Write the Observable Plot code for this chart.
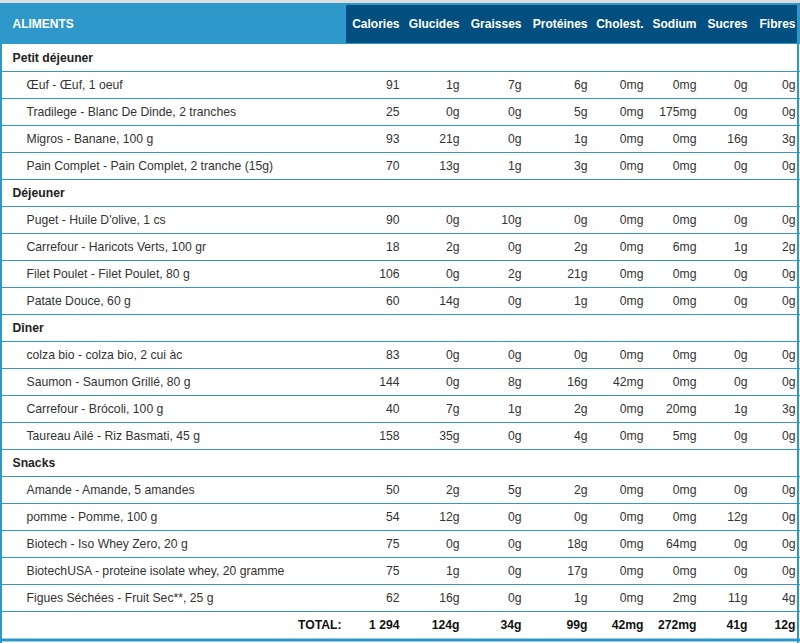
<!DOCTYPE html>
<html><head><meta charset="utf-8">
<script src="https://cdn.jsdelivr.net/npm/d3@7"></script>
<script src="https://cdn.jsdelivr.net/npm/@observablehq/plot@0.6"></script>
<style>
html,body{margin:0;padding:0;background:#fff;}
#wrap{width:800px;border-top:3px solid #dcdcdc;}
#wrap svg{display:block;}
</style></head><body><div id="wrap"></div>
<script>
// ---- data ----
const categories = ["Petit déjeuner", "Déjeuner", "Dîner", "Snacks"];
const foods = [
  "Œuf - Œuf, 1 oeuf",
  "Tradilege - Blanc De Dinde, 2 tranches",
  "Migros - Banane, 100 g",
  "Pain Complet - Pain Complet, 2 tranche (15g)",
  "Puget - Huile D'olive, 1 cs",
  "Carrefour - Haricots Verts, 100 gr",
  "Filet Poulet - Filet Poulet, 80 g",
  "Patate Douce, 60 g",
  "colza bio - colza bio, 2 cui àc",
  "Saumon - Saumon Grillé, 80 g",
  "Carrefour - Brócoli, 100 g",
  "Taureau Ailé - Riz Basmati, 45 g",
  "Amande - Amande, 5 amandes",
  "pomme - Pomme, 100 g",
  "Biotech - Iso Whey Zero, 20 g",
  "BiotechUSA - proteine isolate whey, 20 gramme",
  "Figues Séchées - Fruit Sec**, 25 g"
];
const foodMeal = [0,0,0,0, 1,1,1,1, 2,2,2,2, 3,3,3,3,3];
const columns = ["Calories", "Glucides", "Graisses", "Protéines", "Cholest.", "Sodium", "Sucres", "Fibres"];
const units = ["", "g", "g", "g", "mg", "mg", "g", "g"];
const calories  = [91,25,93,70, 90,18,106,60, 83,144,40,158, 50,54,75,75,62];
const glucides  = [1,0,21,13, 0,2,0,14, 0,0,7,35, 2,12,0,1,16];
const graisses  = [7,0,0,1, 10,0,2,0, 0,8,1,0, 5,0,0,0,0];
const proteines = [6,5,1,3, 0,2,21,1, 0,16,2,4, 2,0,18,17,1];
const cholest   = [0,0,0,0, 0,0,0,0, 0,42,0,0, 0,0,0,0,0];
const sodium    = [0,175,0,0, 0,6,0,0, 0,0,20,5, 0,0,64,0,2];
const sucres    = [0,0,16,0, 0,1,0,0, 0,0,1,0, 0,12,0,0,11];
const fibres    = [0,0,3,0, 0,2,0,0, 0,0,3,0, 0,0,0,0,4];
const totalLabel = "TOTAL:";
const headLabel = "ALIMENTS";

// ---- layout (table column widths) ----
const W = 800;
const colWidths = [346, 58, 60, 62, 66, 56, 53, 51, 48];
const edges = [0, ...d3.cumsum(colWidths)];
const pad = 5;
const ROWH = 27, HEADH = 41;
const FONT = '"Liberation Sans", Arial, Helvetica, sans-serif';
const LIGHT = "#2e98ca", DARK = "#035080", LINE = "#3498cc", TXT = "#333";
const FS = 12.2;

const series = [calories, glucides, graisses, proteines, cholest, sodium, sucres, fibres];
const fr = d3.formatLocale({decimal: ",", thousands: " ", grouping: [3], currency: ["", ""]});
const fmtInt = fr.format(",d");

// ---- rows ----
const rows = [];
categories.forEach((cat, c) => {
  rows.push({type: "cat", label: cat});
  foods.forEach((f, k) => { if (foodMeal[k] === c) rows.push({type: "food", label: f, k}); });
});
rows.push({type: "total", label: totalLabel});
rows.forEach((r, i) => r.i = i);
const N = rows.length;

const cells = [];
rows.forEach(r => {
  if (r.type === "food") {
    series.forEach((s, j) => cells.push({i: r.i, x: edges[j + 2] - pad, text: fmtInt(s[r.k]) + units[j], bold: false}));
  } else if (r.type === "total") {
    series.forEach((s, j) => cells.push({i: r.i, x: edges[j + 2] - pad, text: fmtInt(d3.sum(s)) + units[j], bold: true}));
  }
});

const headCells = columns.map((c, j) => ({label: c, x: edges[j + 2] - pad}));

// ---- header plot ----
const header = Plot.plot({
  width: W, height: HEADH,
  margin: 0,
  x: {domain: [0, W], range: [0, W], axis: null},
  y: {domain: [0, 1], range: [0, HEADH], axis: null},
  style: {fontFamily: FONT, fontSize: "12px", background: "transparent", overflow: "visible"},
  marks: [
    Plot.rect([0], {x1: edges[0], x2: W, y1: 0, y2: 1, fill: LIGHT}),
    Plot.rect([0], {x1: edges[1], x2: W, y1: 0, y2: 1, insetTop: 2, insetBottom: 1, insetRight: 3, fill: DARK}),
    Plot.text([headLabel], {x: edges[0] + 12, y: 0.5, text: d => d, textAnchor: "start", fill: "white", fontWeight: "bold", fontSize: 12}),
    Plot.text(headCells, {x: "x", y: 0.5, text: "label", textAnchor: "end", fill: "white", fontWeight: "bold", fontSize: 12})
  ]
});

// ---- body plot ----
const body = Plot.plot({
  width: W, height: 643 - 3 - HEADH,
  margin: 0,
  x: {domain: [0, W], range: [0, W], axis: null},
  y: {domain: [0, N], range: [0, N * ROWH], axis: null},
  style: {fontFamily: FONT, fontSize: "12px", background: "transparent", overflow: "visible"},
  marks: [
    Plot.ruleY(d3.range(1, N), {y: d => d, x1: 0, x2: W, stroke: LINE, strokeWidth: 1}),
    Plot.ruleY([N], {y: d => d, x1: 0, x2: W, stroke: LIGHT, strokeWidth: 3, dy: 1.5}),
    Plot.ruleX([0], {x: d => d, stroke: LIGHT, strokeWidth: 2, dx: 0.5}),
    Plot.ruleX([W], {x: d => d, stroke: LIGHT, strokeWidth: 2, dx: -2.5}),
    Plot.text(rows.filter(r => r.type === "cat"), {x: edges[0] + 12, y: d => d.i + 0.5, text: "label", textAnchor: "start", fill: "#222", fontWeight: "bold", fontSize: FS}),
    Plot.text(rows.filter(r => r.type === "food"), {x: edges[0] + 26, y: d => d.i + 0.5, text: "label", textAnchor: "start", fill: TXT, fontSize: FS}),
    Plot.text(rows.filter(r => r.type === "total"), {x: edges[1] - pad, y: d => d.i + 0.5, text: "label", textAnchor: "end", fill: "#111", fontWeight: "bold", fontSize: FS}),
    Plot.text(cells.filter(c => !c.bold), {x: "x", y: d => d.i + 0.5, text: "text", textAnchor: "end", fill: TXT, fontSize: FS}),
    Plot.text(cells.filter(c => c.bold), {x: "x", y: d => d.i + 0.5, text: "text", textAnchor: "end", fill: "#111", fontWeight: "bold", fontSize: FS})
  ]
});

const wrap = document.getElementById("wrap");
wrap.appendChild(header);
wrap.appendChild(body);
</script>
</body></html>
